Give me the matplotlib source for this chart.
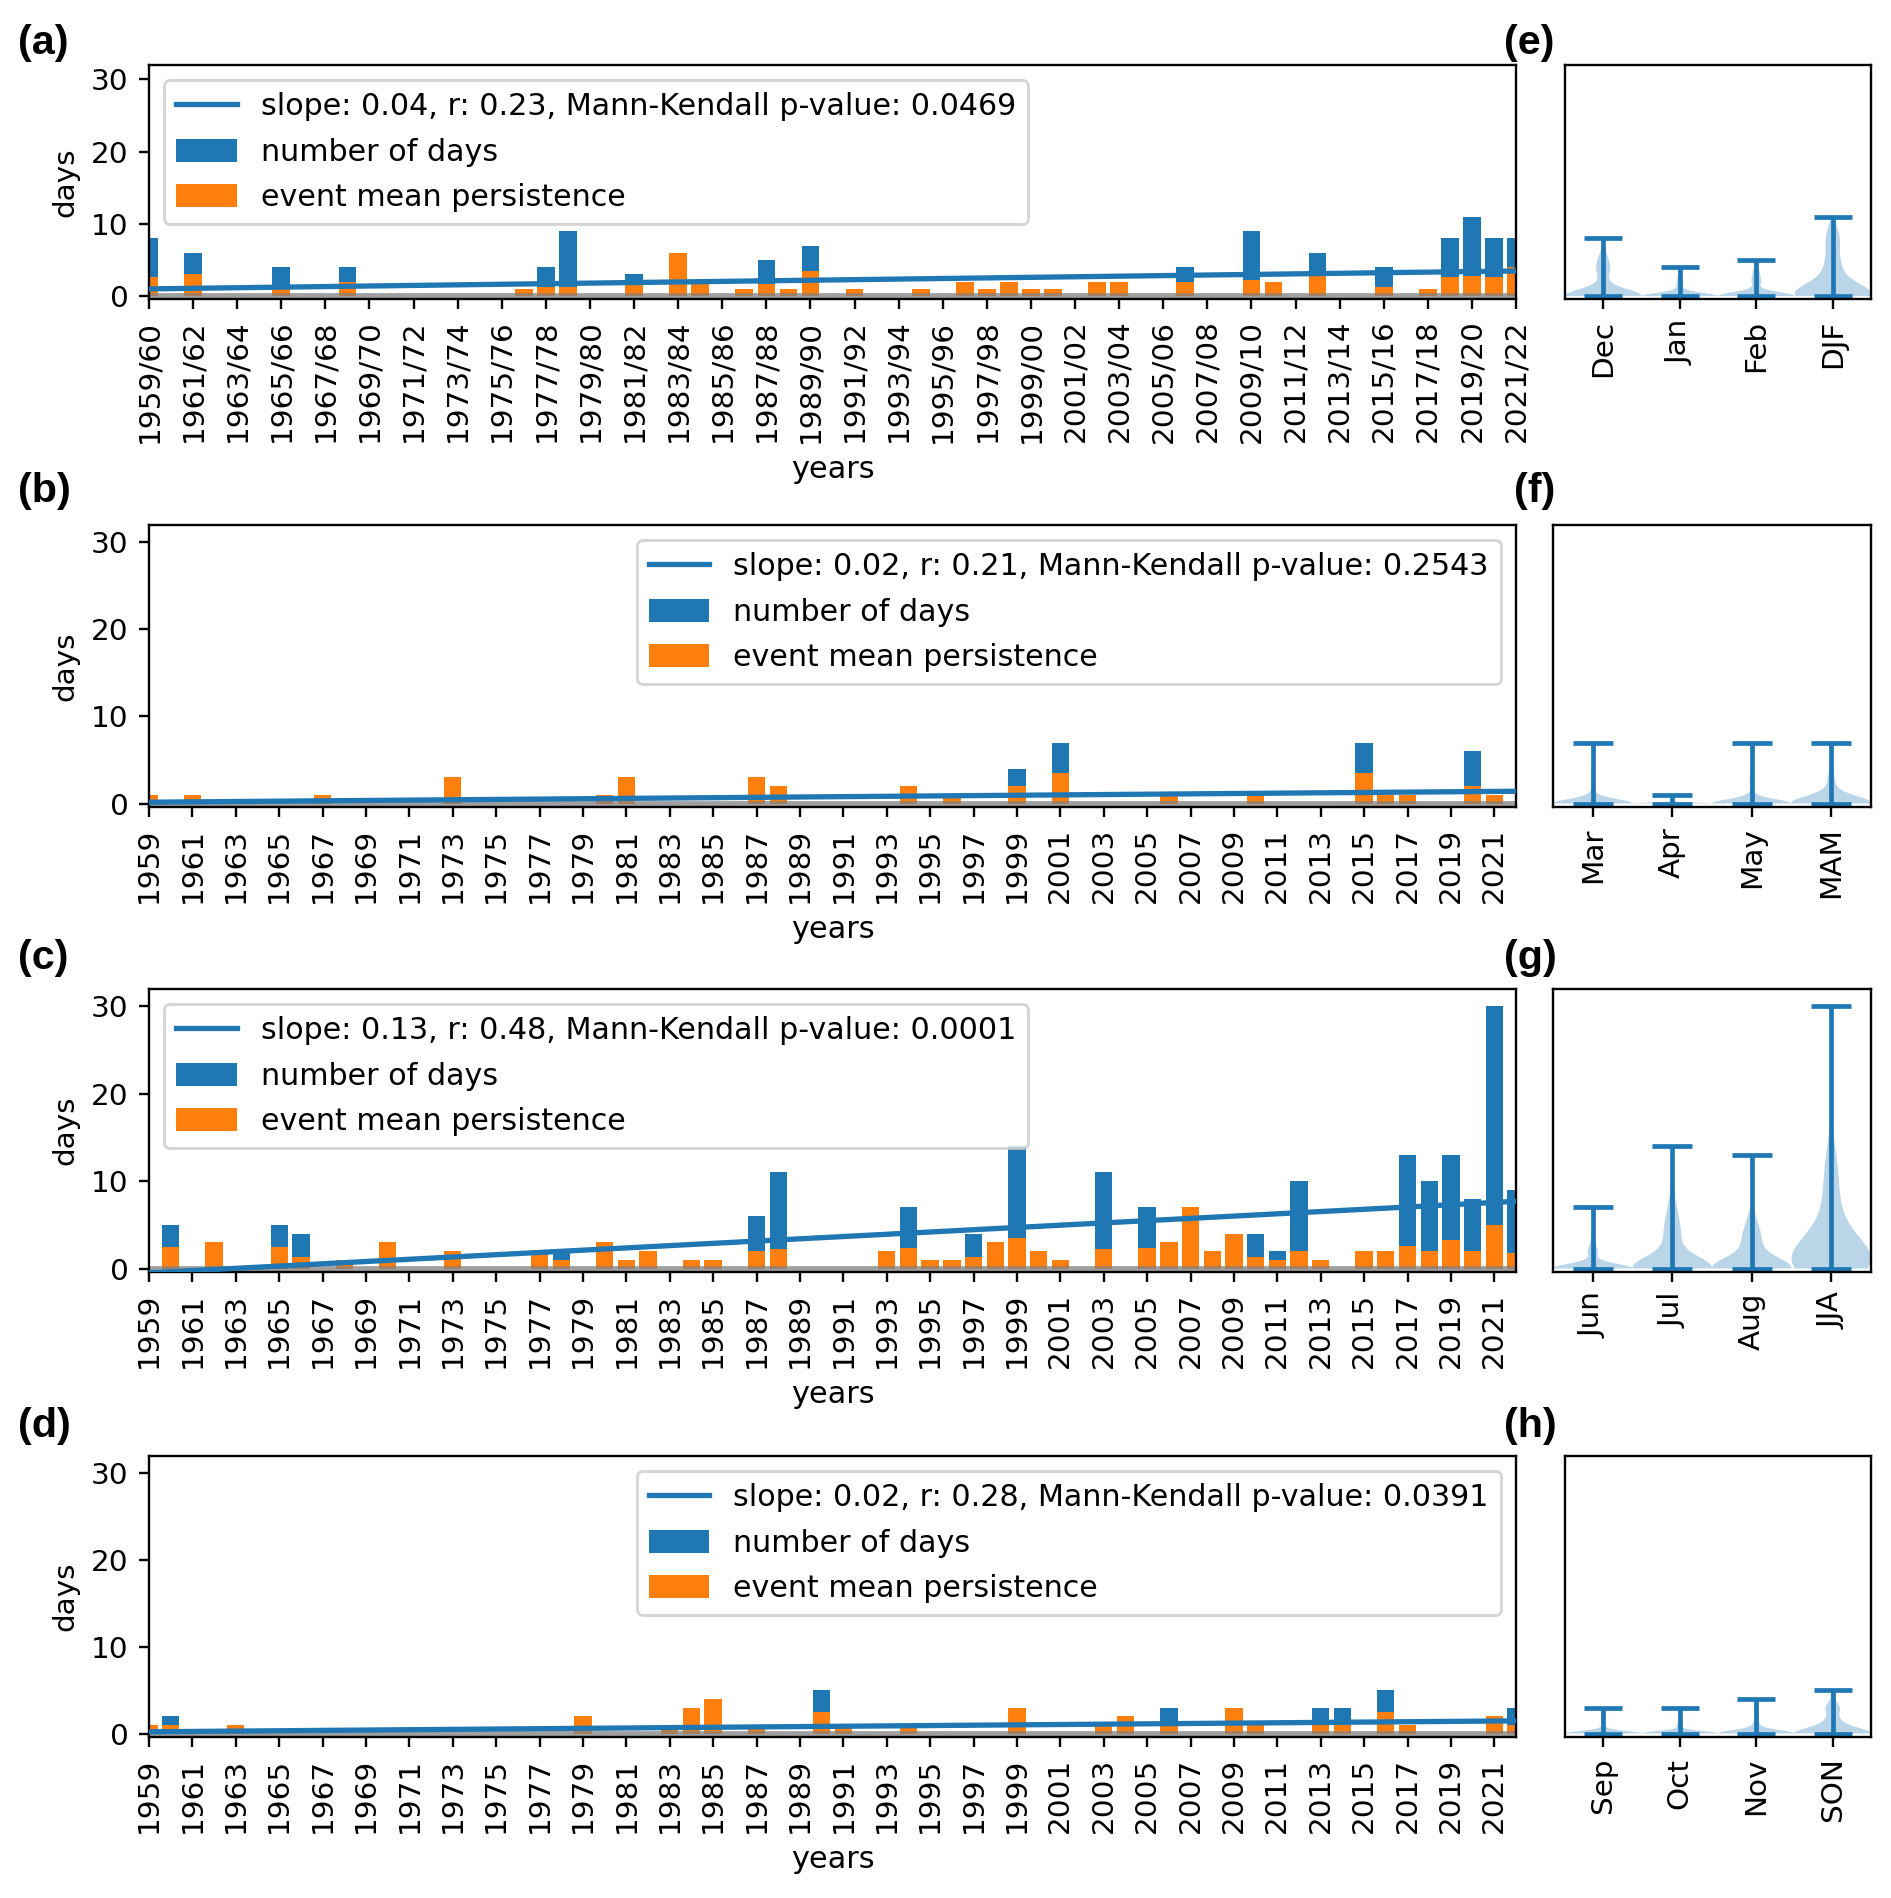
import matplotlib
matplotlib.use("Agg")
import matplotlib.pyplot as plt
import numpy as np

# ---------------- data ----------------
# (a) DJF, keyed by the first year of the winter season (1959 -> 1959/60)
djf_days = {1959: 8, 1961: 6, 1965: 4, 1968: 4, 1976: 1, 1977: 4, 1978: 9, 1981: 3,
            1983: 6, 1984: 2, 1986: 1, 1987: 5, 1988: 1, 1989: 7, 1991: 1, 1994: 1,
            1996: 2, 1997: 1, 1998: 2, 1999: 1, 2000: 1, 2002: 2, 2003: 2, 2006: 4,
            2009: 9, 2010: 2, 2012: 6, 2015: 4, 2017: 1, 2018: 8, 2019: 11, 2020: 8, 2021: 8}
djf_pers = {1959: 2.67, 1961: 3, 1965: 1, 1968: 2, 1976: 1, 1977: 1.33, 1978: 1.29, 1981: 1.5,
            1983: 6, 1984: 2, 1986: 1, 1987: 1.67, 1988: 1, 1989: 3.5, 1991: 1, 1994: 1,
            1996: 2, 1997: 1, 1998: 2, 1999: 1, 2000: 1, 2002: 2, 2003: 2, 2006: 2,
            2009: 2.25, 2010: 2, 2012: 3, 2015: 1.33, 2017: 1, 2018: 2.67, 2019: 2.75, 2020: 2.67, 2021: 4}
# (b) MAM
mam_days = {1959: 1, 1961: 1, 1967: 1, 1973: 3, 1980: 1, 1981: 3, 1987: 3, 1988: 2, 1994: 2,
            1996: 1, 1999: 4, 2001: 7, 2006: 1, 2010: 1, 2015: 7, 2016: 1, 2017: 1, 2020: 6, 2021: 1}
mam_pers = {1959: 1, 1961: 1, 1967: 1, 1973: 3, 1980: 1, 1981: 3, 1987: 3, 1988: 2, 1994: 2,
            1996: 1, 1999: 2, 2001: 3.5, 2006: 1, 2010: 1, 2015: 3.5, 2016: 1, 2017: 1, 2020: 2, 2021: 1}
# (c) JJA
jja_days = {1960: 5, 1962: 3, 1965: 5, 1966: 4, 1968: 1, 1970: 3, 1973: 2, 1977: 2, 1978: 2,
            1980: 3, 1981: 1, 1982: 2, 1984: 1, 1985: 1, 1987: 6, 1988: 11, 1993: 2, 1994: 7,
            1995: 1, 1996: 1, 1997: 4, 1998: 3, 1999: 14, 2000: 2, 2001: 1, 2003: 11, 2005: 7,
            2006: 3, 2007: 7, 2008: 2, 2009: 4, 2010: 4, 2011: 2, 2012: 10, 2013: 1, 2015: 2,
            2016: 2, 2017: 13, 2018: 10, 2019: 13, 2020: 8, 2021: 30, 2022: 9}
jja_pers = {1960: 2.5, 1962: 3, 1965: 2.5, 1966: 1.33, 1968: 1, 1970: 3, 1973: 2, 1977: 1.5, 1978: 1,
            1980: 3, 1981: 1, 1982: 2, 1984: 1, 1985: 1, 1987: 2, 1988: 2.2, 1993: 2, 1994: 2.33,
            1995: 1, 1996: 1, 1997: 1.33, 1998: 3, 1999: 3.5, 2000: 2, 2001: 1, 2003: 2.2, 2005: 2.33,
            2006: 3, 2007: 7, 2008: 2, 2009: 4, 2010: 1.33, 2011: 1, 2012: 2, 2013: 1, 2015: 2,
            2016: 2, 2017: 2.6, 2018: 2, 2019: 3.25, 2020: 2, 2021: 5, 2022: 1.8}
# (d) SON
son_days = {1959: 1, 1960: 2, 1963: 1, 1979: 2, 1983: 1, 1984: 3, 1985: 4, 1987: 1, 1990: 5,
            1991: 1, 1994: 1, 1999: 3, 2003: 1, 2004: 2, 2006: 3, 2009: 3, 2010: 1, 2013: 3,
            2014: 3, 2016: 5, 2017: 1, 2021: 2, 2022: 3}
son_pers = {1959: 1, 1960: 1, 1963: 1, 1979: 2, 1983: 1, 1984: 3, 1985: 4, 1987: 1, 1990: 2.5,
            1991: 1, 1994: 1, 1999: 3, 2003: 1, 2004: 2, 2006: 1.5, 2009: 3, 2010: 1, 2013: 1,
            2014: 1, 2016: 2.5, 2017: 1, 2021: 2, 2022: 1}

# trend lines: (value at first year, slope per year)
trend_djf = (1.0, 0.04)
trend_mam = (0.15, 0.02)
trend_jja = (-0.5, 0.13)
trend_son = (0.2, 0.02)
legend_djf = "slope: 0.04, r: 0.23, Mann-Kendall p-value: 0.0469"
legend_mam = "slope: 0.02, r: 0.21, Mann-Kendall p-value: 0.2543"
legend_jja = "slope: 0.13, r: 0.48, Mann-Kendall p-value: 0.0001"
legend_son = "slope: 0.02, r: 0.28, Mann-Kendall p-value: 0.0391"

# monthly number of days per year (violin panels)
dec_days = {1959: 8, 1961: 3, 1965: 4, 1977: 2, 1978: 5, 1983: 6, 1986: 1, 1987: 3, 1989: 4,
            1991: 1, 1997: 1, 2000: 1, 2002: 2, 2006: 4, 2009: 5, 2012: 3, 2018: 6, 2019: 4,
            2020: 4, 2021: 5}
jan_days = {1968: 4, 1977: 2, 1978: 4, 1981: 3, 1988: 1, 1996: 2, 1999: 1, 2010: 2, 2017: 1,
            2019: 2, 2020: 1, 2021: 3}
feb_days = {1961: 3, 1976: 1, 1984: 2, 1987: 2, 1989: 3, 1994: 1, 1998: 2, 2003: 2, 2009: 4,
            2012: 3, 2015: 4, 2018: 2, 2019: 5, 2020: 3}
mar_days = {1961: 1, 1973: 3, 1988: 2, 1999: 4, 2001: 7, 2010: 1, 2020: 3, 2021: 1}
apr_days = {1959: 1, 1980: 1, 1996: 1, 2016: 1}
may_days = {1967: 1, 1981: 3, 1987: 3, 1994: 2, 2006: 1, 2015: 7, 2017: 1, 2020: 3}
jun_days = {1965: 2, 1968: 1, 1978: 2, 1982: 2, 1995: 1, 2000: 2, 2006: 3, 2011: 2, 2017: 3,
            2020: 4, 2021: 7, 2022: 2}
jul_days = {1960: 5, 1965: 3, 1970: 3, 1977: 2, 1981: 1, 1985: 1, 1987: 6, 1988: 5, 1994: 7,
            1997: 4, 1999: 14, 2001: 1, 2005: 3, 2007: 7, 2009: 4, 2012: 6, 2015: 2, 2017: 5,
            2018: 4, 2019: 8, 2021: 10, 2022: 4}
aug_days = {1962: 3, 1966: 4, 1973: 2, 1980: 3, 1984: 1, 1988: 6, 1993: 2, 1996: 1, 1998: 3,
            2003: 11, 2005: 4, 2008: 2, 2010: 4, 2012: 4, 2013: 1, 2016: 2, 2017: 5, 2018: 6,
            2019: 5, 2020: 4, 2021: 13, 2022: 3}
sep_days = {1959: 1, 1979: 2, 1984: 3, 1990: 2, 1994: 1, 2006: 3, 2016: 2, 2022: 1}
oct_days = {1960: 2, 1983: 1, 1987: 1, 1990: 3, 1999: 3, 2010: 1, 2013: 2, 2017: 1}
nov_days = {1963: 1, 1985: 4, 1991: 1, 2003: 1, 2004: 2, 2009: 3, 2013: 1, 2014: 3, 2016: 3,
            2021: 2, 2022: 2}

winter_years = list(range(1959, 2022))       # 1959/60 ... 2021/22
years = list(range(1959, 2023))              # 1959 ... 2022
djf_ticklabels = [f"{y}/{(y + 1) % 100:02d}" for y in winter_years]
violin_labels = [["Dec", "Jan", "Feb", "DJF"], ["Mar", "Apr", "May", "MAM"],
                 ["Jun", "Jul", "Aug", "JJA"], ["Sep", "Oct", "Nov", "SON"]]

# ---------------- figure ----------------
BLUE = "#1f77b4"
ORANGE = "#ff7f0e"
W, H = 1892, 1898
DPI = 212
plt.rcParams["font.size"] = 10
fig = plt.figure(figsize=(W / DPI, H / DPI), dpi=DPI)


def add_ax(l, t, r, b):
    return fig.add_axes([l / W, 1 - b / H, (r - l) / W, (b - t) / H])


def expand(d, yrs):
    return np.array([d.get(y, 0) for y in yrs], dtype=float)


YLIM = (-0.4, 32)


def main_panel(ax, yrs, days_d, pers_d, trend, label, loc, use_index, ticklabels):
    days = expand(days_d, yrs)
    pers = expand(pers_d, yrs)
    if use_index:
        x = np.arange(len(yrs))
    else:
        x = np.array(yrs, dtype=float)
    b1 = ax.bar(x, days, width=0.8, color=BLUE, label="number of days")
    b2 = ax.bar(x, pers, width=0.8, color=ORANGE, label="event mean persistence")
    ln, = ax.plot(x, trend[0] + trend[1] * (x - x[0]), color=BLUE, lw=1.8, label=label, zorder=3)
    ax.axhline(0, color="gray", lw=2.3, alpha=0.75, zorder=2.5)
    ax.set_xlim(x[0], x[-1])
    ax.set_ylim(*YLIM)
    ax.set_yticks([0, 10, 20, 30])
    ax.set_xticks(x[::2])
    ax.set_xticklabels(ticklabels[::2], rotation=90)
    ax.set_xlabel("years", fontsize=10.3)
    ax.set_ylabel("days")
    ax.legend(handles=[ln, b1, b2], loc=loc, fontsize=10.25, labelspacing=0.55,
              handleheight=0.8, handlelength=2.0)


def violin_panel(ax, datasets, labels):
    parts = ax.violinplot(datasets, positions=[1, 2, 3, 4], widths=1.0)
    for body in parts["bodies"]:
        body.set_facecolor(BLUE)
        body.set_edgecolor("none")
        body.set_alpha(0.3)
    for key in ("cmaxes", "cmins", "cbars"):
        parts[key].set_color(BLUE)
        parts[key].set_linewidth(1.6)
    ax.set_xlim(0.5, 4.5)
    ax.set_ylim(*YLIM)
    ax.set_yticks([])
    ax.set_xticks([1, 2, 3, 4])
    ax.set_xticklabels(labels, rotation=90)


rows = [(65, 299), (525, 807), (989, 1272), (1456, 1737)]
vlefts = [1565, 1553, 1553, 1565]

axa = add_ax(149, rows[0][0], 1516, rows[0][1])
main_panel(axa, winter_years, djf_days, djf_pers, trend_djf, legend_djf, "upper left", True, djf_ticklabels)
axb = add_ax(149, rows[1][0], 1516, rows[1][1])
main_panel(axb, years, mam_days, mam_pers, trend_mam, legend_mam, "upper right", False, [str(y) for y in years])
axc = add_ax(149, rows[2][0], 1516, rows[2][1])
main_panel(axc, years, jja_days, jja_pers, trend_jja, legend_jja, "upper left", False, [str(y) for y in years])
axd = add_ax(149, rows[3][0], 1516, rows[3][1])
main_panel(axd, years, son_days, son_pers, trend_son, legend_son, "upper right", False, [str(y) for y in years])

month_sets = [
    (dec_days, jan_days, feb_days, djf_days, winter_years),
    (mar_days, apr_days, may_days, mam_days, years),
    (jun_days, jul_days, aug_days, jja_days, years),
    (sep_days, oct_days, nov_days, son_days, years),
]
for i, (m1, m2, m3, s, yrs) in enumerate(month_sets):
    ax = add_ax(vlefts[i], rows[i][0], 1871, rows[i][1])
    violin_panel(ax, [expand(m1, yrs), expand(m2, yrs), expand(m3, yrs), expand(s, yrs)],
                 violin_labels[i])

panel_font = dict(fontsize=14, fontweight="bold", family=["Liberation Sans", "DejaVu Sans"],
                  va="center", ha="left")
label_y = [43, 491, 958, 1426]
for lab, y in zip(["(a)", "(b)", "(c)", "(d)"], label_y):
    fig.text(18 / W, 1 - y / H, lab, **panel_font)
for lab, y, xx in zip(["(e)", "(f)", "(g)", "(h)"], label_y, [1504, 1514, 1504, 1504]):
    fig.text(xx / W, 1 - y / H, lab, **panel_font)

fig.savefig("out.png", dpi=DPI)
